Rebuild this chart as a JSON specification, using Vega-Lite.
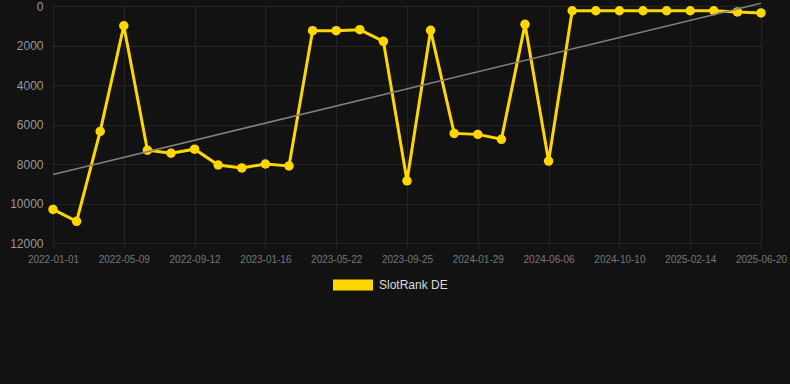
{
  "$schema": "https://vega.github.io/schema/vega-lite/v6.json",
  "width": 737,
  "height": 237,
  "autosize": {"type": "none"},
  "padding": {"left": 53, "top": 6, "right": 0, "bottom": 141},
  "background": "#121212",
  "config": {
    "view": {"stroke": null},
    "font": "Liberation Sans",
    "axis": {"gridColor": "#242424", "gridWidth": 1, "domain": false, "tickColor": "#242424", "labelFont": "Liberation Sans"}
  },
  "datasets": {
    "rank": [
      {"date": "2022-01-01", "rank": 10300, "series": "SlotRank DE"},
      {"date": "2022-02-12", "rank": 10900, "series": "SlotRank DE"},
      {"date": "2022-03-26", "rank": 6350, "series": "SlotRank DE"},
      {"date": "2022-05-09", "rank": 1000, "series": "SlotRank DE"},
      {"date": "2022-06-20", "rank": 7300, "series": "SlotRank DE"},
      {"date": "2022-08-01", "rank": 7450, "series": "SlotRank DE"},
      {"date": "2022-09-12", "rank": 7250, "series": "SlotRank DE"},
      {"date": "2022-10-24", "rank": 8050, "series": "SlotRank DE"},
      {"date": "2022-12-05", "rank": 8200, "series": "SlotRank DE"},
      {"date": "2023-01-16", "rank": 8000, "series": "SlotRank DE"},
      {"date": "2023-02-27", "rank": 8100, "series": "SlotRank DE"},
      {"date": "2023-04-10", "rank": 1250, "series": "SlotRank DE"},
      {"date": "2023-05-22", "rank": 1250, "series": "SlotRank DE"},
      {"date": "2023-07-03", "rank": 1200, "series": "SlotRank DE"},
      {"date": "2023-08-14", "rank": 1790, "series": "SlotRank DE"},
      {"date": "2023-09-25", "rank": 8850, "series": "SlotRank DE"},
      {"date": "2023-11-06", "rank": 1230, "series": "SlotRank DE"},
      {"date": "2023-12-18", "rank": 6450, "series": "SlotRank DE"},
      {"date": "2024-01-29", "rank": 6500, "series": "SlotRank DE"},
      {"date": "2024-03-12", "rank": 6750, "series": "SlotRank DE"},
      {"date": "2024-04-24", "rank": 930, "series": "SlotRank DE"},
      {"date": "2024-06-06", "rank": 7850, "series": "SlotRank DE"},
      {"date": "2024-07-18", "rank": 240, "series": "SlotRank DE"},
      {"date": "2024-08-29", "rank": 240, "series": "SlotRank DE"},
      {"date": "2024-10-10", "rank": 240, "series": "SlotRank DE"},
      {"date": "2024-11-21", "rank": 240, "series": "SlotRank DE"},
      {"date": "2025-01-02", "rank": 240, "series": "SlotRank DE"},
      {"date": "2025-02-14", "rank": 240, "series": "SlotRank DE"},
      {"date": "2025-03-28", "rank": 240, "series": "SlotRank DE"},
      {"date": "2025-05-09", "rank": 300, "series": "SlotRank DE"},
      {"date": "2025-06-20", "rank": 350, "series": "SlotRank DE"}
    ],
    "trend": [
      {"date": "2022-01-01", "rank": 8530},
      {"date": "2025-06-20", "rank": -140}
    ]
  },
  "encoding": {
    "x": {
      "field": "date",
      "type": "ordinal",
      "sort": null,
      "scale": {"type": "point", "range": [0, 708], "padding": 0},
      "axis": {
        "title": null,
        "values": ["2022-01-01", "2022-05-09", "2022-09-12", "2023-01-16", "2023-05-22", "2023-09-25", "2024-01-29", "2024-06-06", "2024-10-10", "2025-02-14", "2025-06-20"],
        "labelAngle": 0,
        "labelColor": "#777777",
        "labelFontSize": 10,
        "tickSize": 5,
        "labelPadding": 6,
        "grid": true
      }
    },
    "y": {
      "field": "rank",
      "type": "quantitative",
      "scale": {"domain": [0, 12000], "reverse": true, "nice": false},
      "axis": {
        "title": null,
        "values": [0, 2000, 4000, 6000, 8000, 10000, 12000],
        "format": "d",
        "labelColor": "#999999",
        "labelFontSize": 12,
        "ticks": false,
        "labelPadding": 10,
        "grid": true
      }
    }
  },
  "layer": [
    {
      "data": {"name": "rank"},
      "mark": {"type": "line", "strokeWidth": 3},
      "encoding": {
        "color": {
          "field": "series",
          "type": "nominal",
          "scale": {"range": ["#FFD700"]},
          "legend": {
            "title": null,
            "orient": "none",
            "legendX": 280,
            "legendY": 259,
            "symbolType": "M-1,-0.275H1V0.275H-1Z",
            "symbolSize": 1600,
            "symbolFillColor": "#FFD700",
            "symbolStrokeColor": "#FFD700",
            "symbolStrokeWidth": 0,
            "symbolOpacity": 1,
            "labelColor": "#dddddd",
            "labelFontSize": 12,
            "labelFont": "Liberation Sans",
            "labelOffset": 6,
            "padding": 0
          }
        }
      }
    },
    {
      "data": {"name": "rank"},
      "mark": {"type": "point", "filled": true, "size": 90, "opacity": 1, "color": "#FFD700"},
      "encoding": {}
    },
    {
      "data": {"name": "trend"},
      "mark": {"type": "line", "color": "#808080", "strokeWidth": 1.5, "clip": false},
      "encoding": {}
    }
  ]
}
